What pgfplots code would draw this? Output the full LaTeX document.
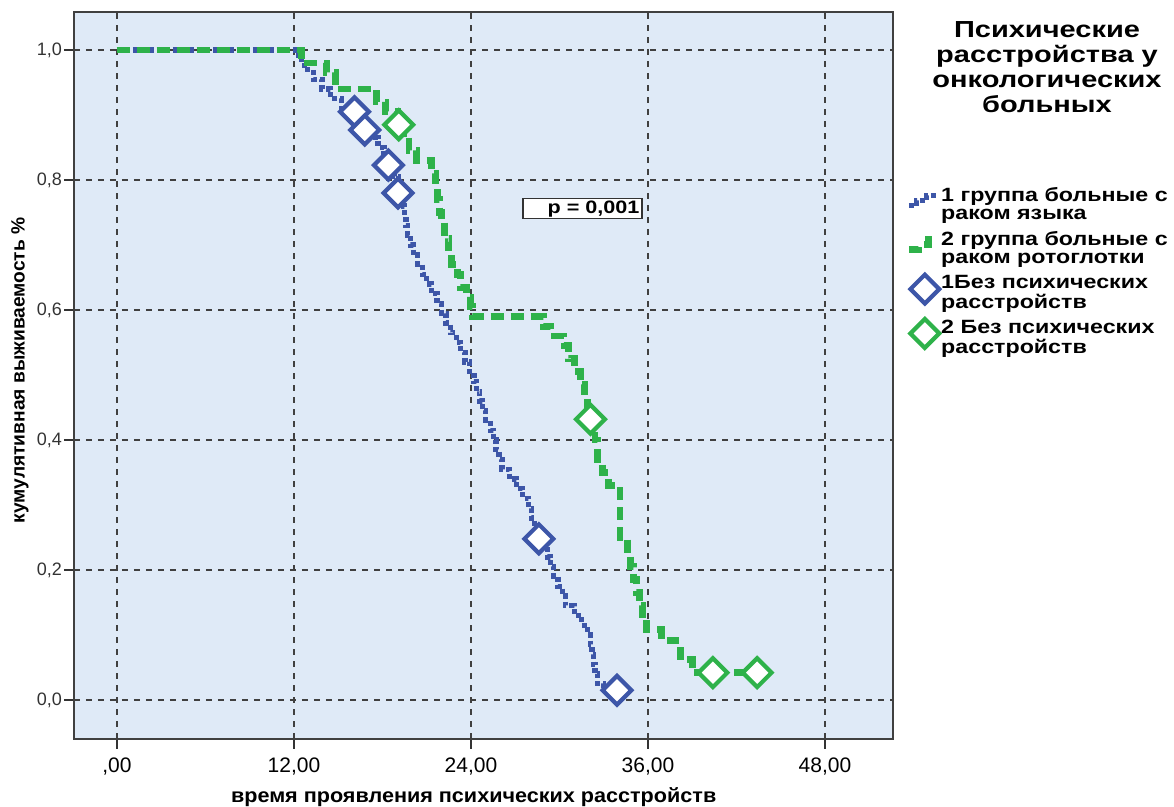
\documentclass[border=0pt]{standalone}
\usepackage{fontspec}
\setmainfont{Liberation Sans}
\newfontfamily\widefont[FakeStretch=1.25]{Liberation Sans}
\newfontfamily\legfont[FakeStretch=1.21]{Liberation Sans}
\newfontfamily\pfont[FakeStretch=1.2]{Liberation Sans}
\newfontfamily\xlfont[FakeStretch=1.08]{Liberation Sans}
\usepackage{pgfplots}
\pgfplotsset{compat=1.18}
\definecolor{kmblue}{RGB}{61,86,168}
\definecolor{kmgreen}{RGB}{46,178,74}
\definecolor{bgblue}{RGB}{223,234,247}
\pgfplotsset{
  bluelegimg/.style={legend image code/.code={\draw[##1] (0pt,-2.5pt) -- (4pt,-2.5pt) -- (4pt,0pt) -- (9pt,0pt) -- (9pt,2.5pt) -- (14pt,2.5pt);}},
  greenlegimg/.style={legend image code/.code={\draw[##1] (0pt,-2.5pt) -- (5pt,-2.5pt) -- (5pt,0pt) -- (10pt,0pt) -- (10pt,2.5pt) -- (14pt,2.5pt);}},
  marklegimg/.style={legend image code/.code={\draw[##1] plot coordinates {(8pt,0pt)};}},
}
\begin{document}
\begin{tikzpicture}
\begin{axis}[
  scale only axis, width=409.5pt, height=363.5pt,
  xmin=-2.915, xmax=52.61, ymin=-0.06, ymax=1.0585,
  axis background/.style={fill=bgblue},
  axis line style={draw=black!75, line width=0.6pt},
  xtick={0,12,24,36,48},
  xticklabels={{,00},{12,00},{24,00},{36,00},{48,00}},
  ytick={0,0.2,0.4,0.6,0.8,1.0},
  yticklabels={{0,0},{0,2},{0,4},{0,6},{0,8},{1,0}},
  tick align=outside, tick pos=left, major tick length=5pt,
  tick style={black!80, line width=0.6pt},
  grid=major,
  major grid style={black!75, line width=0.7pt, dash pattern=on 3pt off 3pt},
  x tick label style={font=\fontsize{10.5}{12}\selectfont, yshift=-1pt},
  y tick label style={font=\fontsize{9}{11}\selectfont, text=black!80, xshift=2.5pt},
  xlabel={время проявления психических расстройств},
  xlabel style={font=\xlfont\bfseries\fontsize{10}{12}\selectfont, at={(axis description cs:0.488,-0.08)}, anchor=center},
  ylabel={кумулятивная выживаемость \%},
  ylabel style={font=\bfseries\fontsize{9.6}{12}\selectfont, at={(axis description cs:-0.0659,0.507)}, anchor=center},
  legend style={at={(rel axis cs:1.0147,0.761)}, anchor=north west, draw=none, fill=none,
    font=\legfont\bfseries\fontsize{9.6}{9.3}\selectfont, row sep=7.5pt, inner sep=0pt,
    nodes={inner sep=0.5pt}},
  legend cell align=left,
]
\addplot[kmblue, line width=2.6pt, dash pattern=on 2.5pt off 1.5pt, const plot, bluelegimg]
coordinates {
(0,1.0)(12.3,0.985)(12.7,0.97)(13.3,0.955)(13.9,0.94)(14.5,0.925)(15.2,0.91)
(16.0,0.895)(16.5,0.88)(17.2,0.865)(17.7,0.85)(18.1,0.835)(18.5,0.82)(18.8,0.805)
(19.1,0.79)(19.3,0.775)(19.4,0.76)(19.5,0.745)(19.6,0.73)(19.7,0.715)(19.9,0.70)
(20.1,0.685)(20.4,0.67)(20.7,0.655)(21.0,0.64)(21.3,0.625)(21.7,0.61)(22.0,0.595)
(22.3,0.58)(22.6,0.565)(23.0,0.55)(23.3,0.535)(23.6,0.52)(23.9,0.505)(24.2,0.49)
(24.4,0.475)(24.6,0.46)(24.8,0.445)(25.0,0.43)(25.3,0.415)(25.5,0.40)(25.7,0.385)
(25.9,0.37)(26.1,0.355)(26.6,0.34)(27.1,0.325)(27.5,0.31)(27.9,0.295)(28.1,0.28)
(28.3,0.265)(28.6,0.25)(29.0,0.235)(29.2,0.22)(29.4,0.205)(29.6,0.19)(29.9,0.175)
(30.2,0.16)(30.4,0.145)(31.0,0.13)(31.5,0.115)(31.9,0.10)(32.1,0.085)(32.2,0.07)
(32.3,0.055)(32.4,0.04)(32.6,0.025)(33.0,0.015)(33.9,0.015)
};
\addlegendentry{\begin{tabular}{@{}l@{}}1 группа больные с\\раком языка\end{tabular}}
\addplot[kmgreen, line width=3.4pt, dash pattern=on 6.5pt off 3.5pt, const plot, greenlegimg]
coordinates {
(0,1.0)(12.5,0.98)(14.2,0.965)(14.8,0.94)(17.6,0.92)(18.2,0.905)(19.0,0.885)
(19.4,0.865)(19.8,0.845)(20.3,0.83)(21.3,0.81)(21.6,0.79)(21.75,0.77)(21.85,0.75)
(22.0,0.735)(22.2,0.71)(22.5,0.69)(22.7,0.67)(23.1,0.655)(23.3,0.635)(23.7,0.62)
(23.95,0.605)(24.1,0.59)(28.9,0.575)(29.4,0.56)(30.3,0.545)(30.6,0.525)(31.0,0.505)
(31.4,0.485)(31.7,0.465)(31.9,0.445)(32.3,0.42)(32.4,0.40)(32.6,0.37)(32.9,0.35)
(33.3,0.33)(34.1,0.25)(34.6,0.225)(34.8,0.205)(35.0,0.185)(35.2,0.165)(35.4,0.145)
(35.6,0.125)(35.9,0.108)(36.9,0.092)(37.9,0.077)(38.2,0.062)(39.0,0.042)(43.4,0.042)
};
\addlegendentry{\begin{tabular}{@{}l@{}}2 группа больные с\\раком ротоглотки\end{tabular}}
\addplot[only marks, mark=square*, mark size=5.1pt,
  mark options={rotate=45, solid, line width=2.1pt, draw=kmblue, fill=white}, marklegimg]
coordinates {(16.1,0.905)(16.8,0.877)(18.4,0.823)(19.05,0.78)(28.6,0.248)(33.9,0.015)};
\addlegendentry{\begin{tabular}{@{}l@{}}1Без психических\\расстройств\end{tabular}}
\addplot[only marks, mark=square*, mark size=5.1pt,
  mark options={rotate=45, solid, line width=2.1pt, draw=kmgreen, fill=white}, marklegimg]
coordinates {(19.1,0.885)(32.1,0.432)(40.4,0.042)(43.4,0.042)};
\addlegendentry{\begin{tabular}{@{}l@{}}2 Без психических\\расстройств\end{tabular}}
\node[draw=black!80, fill=white, line width=0.6pt, minimum width=59.5pt, minimum height=9.5pt,
  inner sep=0.8pt, text width=57pt, align=right, font=\pfont\bfseries\fontsize{9}{9.5}\selectfont]
  at (axis cs:31.56,0.756) {p = 0,001};
\end{axis}
\node[anchor=north, align=center, inner sep=0pt, font=\widefont\bfseries\fontsize{11.6}{12.5}\selectfont]
  at ([shift={(77pt,-4.5pt)}]current axis.north east)
  {Психические\\расстройства у\\онкологических\\больных};
\pgfresetboundingbox
\path[use as bounding box] ([shift={(-37pt,-34pt)}]current axis.south west) rectangle ([shift={(140.5pt,6pt)}]current axis.north east);
\end{tikzpicture}
\end{document}
